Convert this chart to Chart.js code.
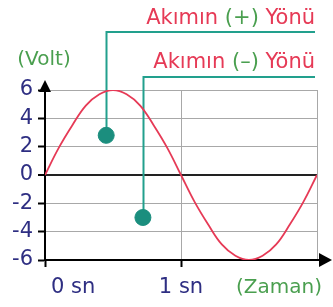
<!DOCTYPE html>
<html>
<head>
<meta charset="utf-8">
<script src="https://cdn.jsdelivr.net/npm/chart.js@4.4.1/dist/chart.umd.min.js"></script>
<style>
  html, body { margin: 0; padding: 0; background: #fff; }
  #wrap { width: 333px; height: 307px; }
</style>
</head>
<body>
<div id="wrap"><canvas id="chart"></canvas></div>
<script>
'use strict';

// Values
const timeValues = [0, 0.1, 0.2, 0.3, 0.4, 0.5, 0.6, 0.7, 0.8, 0.9, 1.0,
                    1.1, 1.2, 1.3, 1.4, 1.5, 1.6, 1.7, 1.8, 1.9, 2.0];
const voltValues = [0, 1.9, 3.5, 4.9, 5.7, 6, 5.7, 4.9, 3.5, 1.9, 0,
                    -1.9, -3.5, -4.9, -5.7, -6, -5.7, -4.9, -3.5, -1.9, 0];
const dotTimes = [0.45, 0.72];
const dotVolts = [2.8, -3];
const xTickLabels = ['0 sn', '1 sn'];
const calloutLabels = [['Akımın ', '(+)', ' Yönü'], ['Akımın ', '(–)', ' Yönü']];
const yAxisTitle = '(Volt)';
const xAxisTitle = '(Zaman)';

const RED = '#e63a56';
const GREEN = '#4a9f4f';
const TEAL = '#22a08d';
const NAVY = '#2e2e82';
const FONT = '"DejaVu Sans", sans-serif';

// Callout lines, labels, arrows and custom x labels
const extras = {
    id: 'extras',
    beforeDatasetsDraw(chart) {
        const ctx = chart.ctx;
        const x = chart.scales.x, y = chart.scales.y;
        const levels = [32, 77];
        ctx.save();
        ctx.strokeStyle = TEAL;
        ctx.lineWidth = 2;
        for (let i = 0; i < dotTimes.length; i++) {
            let px = Math.round(x.getPixelForValue(dotTimes[i])) + 0.5;
            let py = y.getPixelForValue(dotVolts[i]);
            ctx.beginPath();
            ctx.moveTo(px, py);
            ctx.lineTo(px, levels[i]);
            ctx.lineTo(315, levels[i]);
            ctx.stroke();
        }
        ctx.restore();
    },
    afterDraw(chart) {
        const ctx = chart.ctx;
        const area = chart.chartArea;
        const x = chart.scales.x;
        ctx.save();

        // axis extensions and arrows
        ctx.strokeStyle = '#000';
        ctx.fillStyle = '#000';
        ctx.lineWidth = 2;
        ctx.beginPath();
        ctx.moveTo(area.left, area.top);
        ctx.lineTo(area.left, 88);
        ctx.moveTo(area.right, area.bottom);
        ctx.lineTo(322, area.bottom);
        ctx.stroke();
        ctx.beginPath();
        ctx.moveTo(area.left, 80);
        ctx.lineTo(area.left - 6, 92);
        ctx.lineTo(area.left + 6, 92);
        ctx.closePath();
        ctx.fill();
        ctx.beginPath();
        ctx.moveTo(332, area.bottom);
        ctx.lineTo(319, area.bottom - 7);
        ctx.lineTo(319, area.bottom + 7);
        ctx.closePath();
        ctx.fill();

        // callout labels, right aligned
        ctx.font = '21px ' + FONT;
        ctx.textBaseline = 'alphabetic';
        ctx.textAlign = 'left';
        const baselines = [24, 68];
        calloutLabels.forEach((parts, i) => {
            let total = parts.reduce((s, p) => s + ctx.measureText(p).width, 0);
            let cx = 315 - total;
            parts.forEach((p, j) => {
                ctx.fillStyle = j === 1 ? GREEN : RED;
                ctx.fillText(p, cx, baselines[i]);
                cx += ctx.measureText(p).width;
            });
        });

        // axis titles
        ctx.fillStyle = GREEN;
        ctx.font = '20px ' + FONT;
        ctx.textAlign = 'center';
        ctx.fillText(yAxisTitle, 44, 65);
        ctx.fillText(xAxisTitle, 279, 293);

        // x tick labels
        ctx.fillStyle = NAVY;
        ctx.font = '21px ' + FONT;
        ctx.textAlign = 'left';
        ctx.fillText(xTickLabels[0], x.getPixelForValue(0) + 6, 293);
        ctx.textAlign = 'center';
        ctx.fillText(xTickLabels[1], x.getPixelForValue(1), 293);
        ctx.restore();
    }
};

new Chart(document.getElementById('chart'), {
    type: 'line',
    data: {
        datasets: [{
            data: timeValues.map((t, i) => ({x: t, y: voltValues[i]})),
            borderColor: RED,
            borderWidth: 1.8,
            pointRadius: 0,
            tension: 0.4,
            fill: false
        }, {
            type: 'scatter',
            data: dotTimes.map((t, i) => ({x: t, y: dotVolts[i]})),
            backgroundColor: '#1b8e7e',
            borderColor: '#1b8e7e',
            pointRadius: 8,
            pointHoverRadius: 8
        }]
    },
    options: {
        responsive: true,
        maintainAspectRatio: false,
        animation: false,
        events: [],
        layout: {padding: {top: 90, right: 16, left: 0, bottom: 0}},
        plugins: {legend: {display: false}, tooltip: {enabled: false}},
        scales: {
            x: {
                type: 'linear',
                min: 0,
                max: 2,
                afterFit: s => { s.height = 47; },
                ticks: {stepSize: 1, display: false},
                border: {color: '#000', width: 2},
                grid: {
                    color: '#a8a8a8',
                    lineWidth: 1,
                    tickLength: 7,
                    tickColor: c => c.tick && c.tick.value === 2 ? 'rgba(0,0,0,0)' : '#000',
                    tickWidth: 2
                }
            },
            y: {
                min: -6,
                max: 6,
                afterFit: s => { s.width = 45; },
                ticks: {
                    stepSize: 2,
                    color: NAVY,
                    padding: 5,
                    font: {family: FONT, size: 21}
                },
                border: {color: '#000', width: 2},
                grid: {
                    color: c => c.tick && c.tick.value === 0 ? '#222' : '#a8a8a8',
                    lineWidth: c => c.tick && c.tick.value === 0 ? 2 : 1,
                    tickLength: 7,
                    tickColor: '#000',
                    tickWidth: 2
                }
            }
        }
    },
    plugins: [extras]
});
</script>
</body>
</html>
